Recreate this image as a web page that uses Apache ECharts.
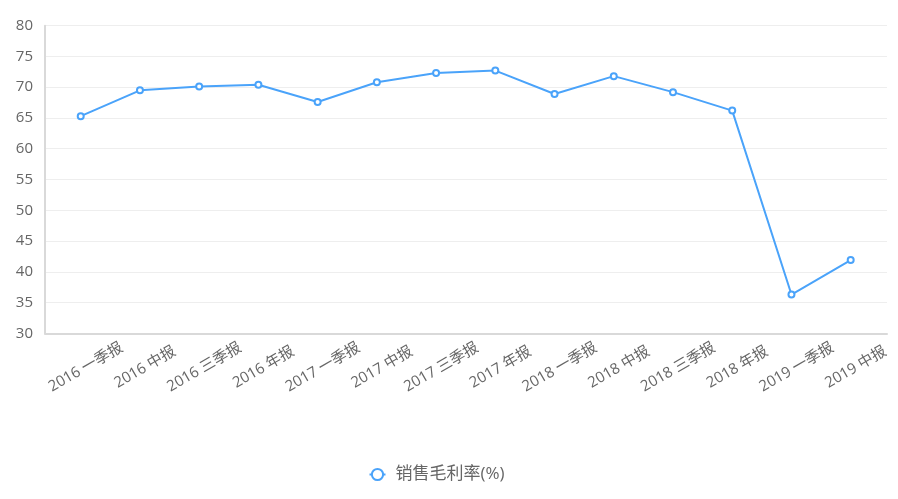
<!DOCTYPE html>
<html>
<head>
<meta charset="utf-8">
<script src="https://cdn.jsdelivr.net/npm/echarts@6/dist/echarts.min.js"></script>
<style>
html,body{margin:0;padding:0;background:#fff;}
#chart{width:898px;height:499px;}
</style>
</head>
<body>
<div id="chart"></div>
<script>
var categories = ['2016 一季报','2016 中报','2016 三季报','2016 年报','2017 一季报','2017 中报','2017 三季报','2017 年报','2018 一季报','2018 中报','2018 三季报','2018 年报','2019 一季报','2019 中报'];
var grossMargin = [65.3, 69.5, 70.1, 70.4, 67.6, 70.8, 72.3, 72.7, 68.9, 71.8, 69.2, 66.2, 36.3, 41.9];
var seriesName = '销售毛利率(%)';
var yMin = 30, yMax = 80, yStep = 5;

var FONT = '"Open Sans", "Noto Sans CJK SC", sans-serif';
var chart = echarts.init(document.getElementById('chart'), null, {renderer:'canvas'});
chart.setOption({
  animation: false,
  backgroundColor: '#fff',
  textStyle: {fontFamily: FONT},
  legend: {
    data: [seriesName],
    left: 363.5,
    top: 461,
    itemWidth: 16,
    itemHeight: 14,
    textStyle: {fontSize: 17, color: '#666', fontFamily: FONT, padding: [0,0,0,5]}
  },
  grid: [
    {left: 45, right: 11, top: 25.7, height: 307.6},
    {left: 51.1, right: 17.7, top: 25.7, height: 307.6}
  ],
  xAxis: [
    {
      type: 'category', gridIndex: 0, data: categories,
      axisLine: {show: true, lineStyle: {color: '#d9d9d9', width: 2}},
      axisTick: {show: false}, axisLabel: {show: false}, splitLine: {show: false}
    },
    {
      type: 'category', gridIndex: 1, data: categories, boundaryGap: true,
      axisLine: {show: false}, axisTick: {show: false}, splitLine: {show: false},
      axisLabel: {
        interval: 0, rotate: 30, align: 'center', verticalAlign: 'middle',
        margin: 37, padding: [0,0,0,12],
        color: '#666', fontSize: 15, fontFamily: FONT
      }
    }
  ],
  yAxis: [
    {
      type: 'value', gridIndex: 0, min: yMin, max: yMax, interval: yStep,
      axisLine: {show: true, lineStyle: {color: '#d9d9d9', width: 2}},
      axisTick: {show: false},
      axisLabel: {color: '#666', fontSize: 15, margin: 12, fontFamily: FONT},
      splitLine: {show: true, lineStyle: {color: '#eeeeee', width: 1}}
    },
    {
      type: 'value', gridIndex: 1, min: yMin, max: yMax, interval: yStep, show: false
    }
  ],
  series: [{
    name: seriesName,
    type: 'line',
    xAxisIndex: 1, yAxisIndex: 1,
    data: grossMargin,
    symbol: 'emptyCircle',
    symbolSize: 6,
    itemStyle: {color: '#4aa3fa', borderWidth: 1.5},
    lineStyle: {color: '#4aa3fa', width: 2}
  }]
});
</script>
</body>
</html>
